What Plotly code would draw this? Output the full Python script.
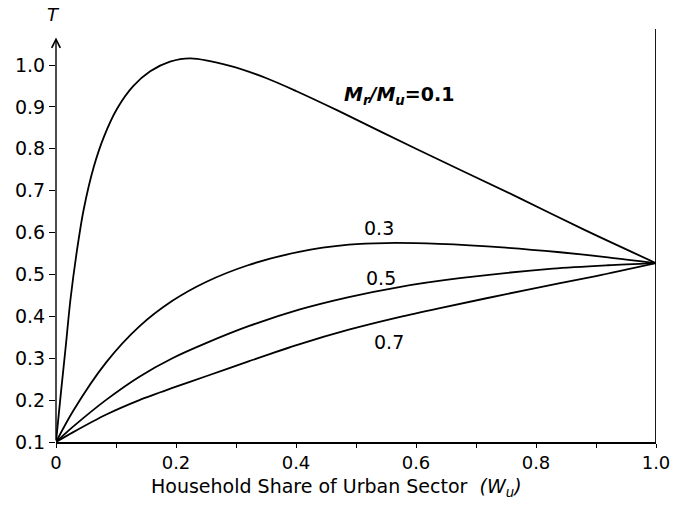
import plotly.graph_objects as go

# Data
x_01 = [0, 0.008, 0.016, 0.024, 0.035, 0.046, 0.063, 0.080, 0.102, 0.129, 0.157, 0.19, 0.224,
        0.29, 0.35, 0.40, 0.47, 0.60, 0.77, 0.88, 1.0]
t_01 = [0.1, 0.215, 0.325, 0.439, 0.558, 0.654, 0.757, 0.829, 0.896, 0.950, 0.985, 1.008, 1.016,
        0.998, 0.969, 0.938, 0.891, 0.800, 0.684, 0.607, 0.527]

x_03 = [0, 0.028, 0.083, 0.139, 0.194, 0.25, 0.32, 0.405, 0.488, 0.55, 0.638, 0.75, 0.84, 0.92, 1.0]
t_03 = [0.1, 0.173, 0.289, 0.376, 0.437, 0.482, 0.522, 0.554, 0.571, 0.575, 0.573, 0.564, 0.553, 0.541, 0.527]

x_05 = [0, 0.028, 0.083, 0.139, 0.194, 0.25, 0.322, 0.405, 0.488, 0.572, 0.673, 0.828, 0.92, 1.0]
t_05 = [0.1, 0.136, 0.2, 0.256, 0.3, 0.336, 0.377, 0.416, 0.446, 0.47, 0.491, 0.514, 0.522, 0.527]

x_07 = [0, 0.028, 0.083, 0.139, 0.194, 0.25, 0.322, 0.405, 0.488, 0.572, 0.638, 0.787, 0.9, 1.0]
t_07 = [0.1, 0.123, 0.165, 0.2, 0.229, 0.257, 0.293, 0.333, 0.368, 0.398, 0.419, 0.464, 0.496, 0.527]

x_tickvals = [0, 0.2, 0.4, 0.6, 0.8, 1.0]
x_ticktext = ["0", "0.2", "0.4", "0.6", "0.8", "1.0"]
x_minorvals = [0.1, 0.3, 0.5, 0.7, 0.9]
y_tickvals = [0.1, 0.2, 0.3, 0.4, 0.5, 0.6, 0.7, 0.8, 0.9, 1.0]
y_ticktext = ["0.1", "0.2", "0.3", "0.4", "0.5", "0.6", "0.7", "0.8", "0.9", "1.0"]

FONT = "DejaVu Sans"

fig = go.Figure()
for xs, ts in [(x_01, t_01), (x_03, t_03), (x_05, t_05), (x_07, t_07)]:
    fig.add_trace(go.Scatter(x=xs, y=ts, mode="lines",
                             line=dict(color="black", width=1.8, shape="spline", smoothing=0.8),
                             showlegend=False, hoverinfo="skip"))

fig.update_layout(
    width=678, height=512,
    margin=dict(l=56, r=22, t=29, b=70),
    paper_bgcolor="white", plot_bgcolor="white",
    font=dict(family=FONT, color="black", size=19),
    xaxis=dict(range=[0, 1.0], showgrid=False, zeroline=False, showline=True, automargin=False,
               linecolor="black", linewidth=1.5, ticks="outside", ticklen=4,
               tickwidth=1.2, tickcolor="black",
               tickvals=x_tickvals, ticktext=x_ticktext,
               minor=dict(tickvals=x_minorvals, ticks="outside", ticklen=4,
                          tickwidth=1.2, tickcolor="black", showgrid=False),
               tickfont=dict(family=FONT, size=18)),
    yaxis=dict(range=[0.1, 1.086], showgrid=False, zeroline=False, showline=False, automargin=False,
               ticks="outside", ticklen=6, tickwidth=1.2, tickcolor="black",
               tickvals=y_tickvals, ticktext=y_ticktext,
               tickfont=dict(family=FONT, size=19)),
)

# right vertical boundary line
fig.add_shape(type="line", xref="x", yref="y", x0=1.0, x1=1.0, y0=0.1, y1=1.086,
              line=dict(color="black", width=1.8))

# y axis with arrow
fig.add_annotation(x=0, y=1.066, ax=0, ay=0.1, xref="x", yref="y", axref="x", ayref="y",
                   text="", showarrow=True, arrowhead=5, arrowsize=1.2, arrowwidth=1.4,
                   arrowcolor="black")

# axis labels
fig.add_annotation(x=-0.018, y=1.034, xref="paper", yref="paper", text="<i>T</i>",
                   showarrow=False, yanchor="middle", font=dict(family=FONT, size=18))
fig.add_annotation(x=0.468, y=-0.111, xref="paper", yref="paper",
                   text="Household Share of Urban Sector  <i>(W<sub>u</sub>)</i>",
                   showarrow=False, font=dict(family=FONT, size=19), yanchor="middle")

# curve labels
fig.add_annotation(x=0.572, y=0.928, xref="x", yref="y",
                   text="<b><i>M<sub>r</sub>/M<sub>u</sub></i>=0.1</b>",
                   showarrow=False, font=dict(family=FONT, size=19))
fig.add_annotation(x=0.538, y=0.611, xref="x", yref="y", text="0.3", showarrow=False,
                   font=dict(family=FONT, size=19))
fig.add_annotation(x=0.542, y=0.492, xref="x", yref="y", text="0.5", showarrow=False,
                   font=dict(family=FONT, size=19))
fig.add_annotation(x=0.555, y=0.339, xref="x", yref="y", text="0.7", showarrow=False,
                   font=dict(family=FONT, size=19))

fig.write_html("out.html", config={"displayModeBar": False},
               post_script="document.body.style.margin='0';document.body.style.overflow='hidden';")
